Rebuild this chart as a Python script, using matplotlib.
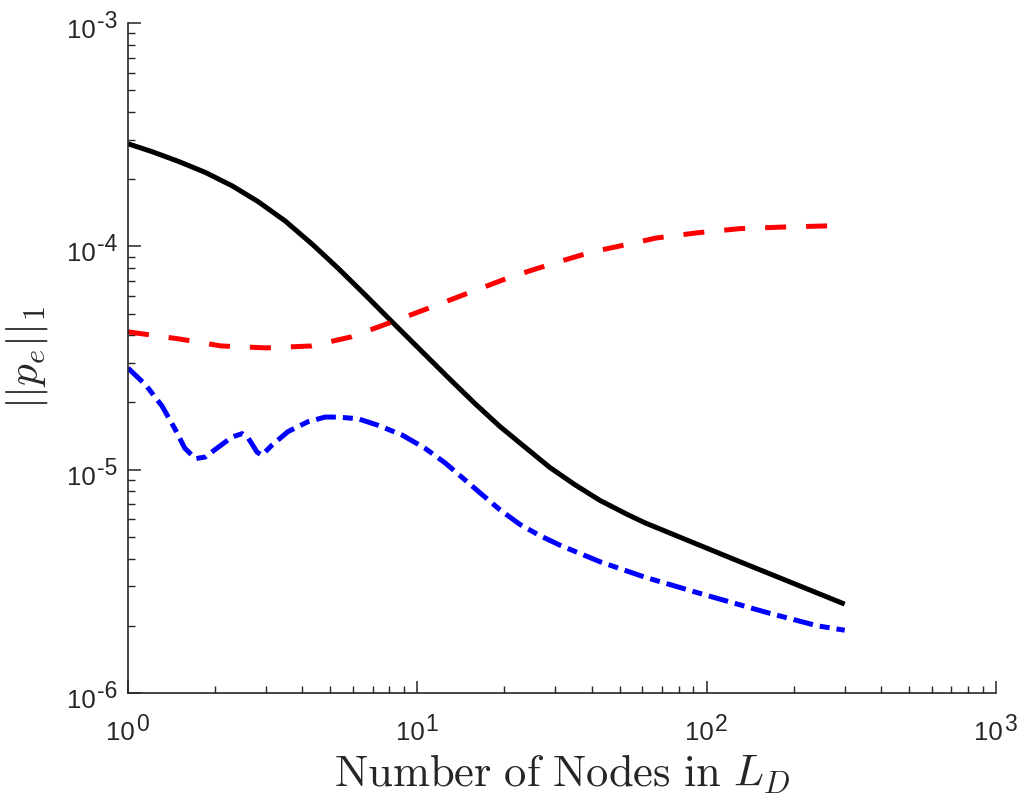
import matplotlib
matplotlib.use("Agg")
import matplotlib.pyplot as plt
from matplotlib.ticker import LogLocator, NullFormatter

# values (log-log)
x_black = [1, 1.21, 1.49, 1.85, 2.29, 2.81, 3.49, 4.33, 5.32, 6.59, 8.18, 10.4,
           13.0, 15.8, 19.3, 23.6, 28.7, 35.1, 42.8, 53.1, 61.2, 123, 300]
y_black = [2.88e-4, 2.655e-4, 2.404e-4, 2.143e-4, 1.866e-4, 1.589e-4, 1.300e-4,
           1.023e-4, 7.98e-5, 6.08e-5, 4.59e-5, 3.37e-5, 2.53e-5, 1.98e-5, 1.56e-5,
           1.259e-5, 1.023e-5, 8.55e-6, 7.28e-6, 6.31e-6, 5.78e-6, 3.99e-6, 2.50e-6]

x_red = [1, 1.5, 2.1, 3.0, 4.3, 5.9, 8.0, 11, 15, 21, 29, 40, 56, 67, 93, 130, 184, 300]
y_red = [4.14e-5, 3.85e-5, 3.58e-5, 3.51e-5, 3.58e-5, 3.93e-5, 4.54e-5, 5.30e-5,
         6.18e-5, 7.29e-5, 8.33e-5, 9.43e-5, 1.035e-4, 1.09e-4, 1.15e-4, 1.20e-4,
         1.22e-4, 1.24e-4]

x_blue = [1, 1.15, 1.31, 1.45, 1.57, 1.71, 1.85, 2.05, 2.29, 2.48, 2.60, 2.79, 2.90,
          3.15, 3.57, 4.19, 4.80, 5.32, 6.24, 7.32, 8.85, 10.6, 12.5, 16.5, 19.3,
          22.6, 26.5, 31.1, 42.8, 61.2, 95, 162, 241, 300]
y_blue = [2.85e-5, 2.40e-5, 1.93e-5, 1.53e-5, 1.25e-5, 1.12e-5, 1.14e-5, 1.26e-5,
          1.40e-5, 1.45e-5, 1.39e-5, 1.20e-5, 1.16e-5, 1.29e-5, 1.48e-5, 1.64e-5,
          1.72e-5, 1.72e-5, 1.69e-5, 1.58e-5, 1.43e-5, 1.25e-5, 1.07e-5, 7.86e-6,
          6.61e-6, 5.69e-6, 5.07e-6, 4.59e-6, 3.87e-6, 3.30e-6, 2.79e-6, 2.29e-6,
          2.00e-6, 1.91e-6]

x_major = [1, 10, 100, 1000]
x_exp = ['0', '1', '2', '3']
y_major = [1e-6, 1e-5, 1e-4, 1e-3]
y_exp = ['-6', '-5', '-4', '-3']

plt.rcParams['font.family'] = ['Liberation Sans', 'DejaVu Sans']
plt.rcParams['mathtext.fontset'] = 'cm'

gray = '#262626'

fig = plt.figure(figsize=(10.23, 8.01), dpi=100)
ax = fig.add_axes([128 / 1023, 1 - 693 / 801, 868 / 1023, 670 / 801])

ax.plot(x_black, y_black, color='black', lw=3.6, solid_capstyle='butt',
        solid_joinstyle='round')
ax.plot(x_red, y_red, color='red', lw=3.6, dashes=(4.2, 4.0), dash_capstyle='butt')
ax.plot(x_blue, y_blue, color='blue', lw=3.6, dashes=(4.0, 1.4, 2.0, 1.4),
        dash_capstyle='butt')

ax.set_xscale('log')
ax.set_yscale('log')
ax.set_xlim(1, 1000)
ax.set_ylim(1e-6, 1e-3)

ax.spines['top'].set_visible(False)
ax.spines['right'].set_visible(False)
for s in ['left', 'bottom']:
    ax.spines[s].set_color(gray)
    ax.spines[s].set_linewidth(1.2)

ax.set_xticks(x_major)
ax.set_yticks(y_major)
ax.xaxis.set_minor_locator(LogLocator(base=10, subs=range(2, 10), numticks=10))
ax.yaxis.set_minor_locator(LogLocator(base=10, subs=range(2, 10), numticks=10))
ax.xaxis.set_minor_formatter(NullFormatter())
ax.yaxis.set_minor_formatter(NullFormatter())

ax.tick_params(which='major', direction='in', length=9, width=1.1, color=gray,
               labelbottom=False, labelleft=False)
ax.tick_params(which='minor', direction='in', length=5, width=1.0, color=gray)

# MATLAB-style tick labels: base and exponent as two texts
xtr = ax.get_xaxis_transform()
ytr = ax.get_yaxis_transform()
for xv, e in zip(x_major, x_exp):
    ax.annotate('10', (xv, 0), xycoords=xtr, xytext=(5.0, -33.8),
                textcoords='offset points', ha='right', va='baseline',
                fontsize=18.5, color=gray, annotation_clip=False)
    ax.annotate(e, (xv, 0), xycoords=xtr, xytext=(5.8, -27.4),
                textcoords='offset points', ha='left', va='baseline',
                fontsize=16.5, color=gray, annotation_clip=False)
for yv, e in zip(y_major, y_exp):
    ax.annotate('10', (0, yv), xycoords=ytr, xytext=(-23.0, -10.8),
                textcoords='offset points', ha='right', va='baseline',
                fontsize=18.5, color=gray, annotation_clip=False)
    ax.annotate(e, (0, yv), xycoords=ytr, xytext=(-22.3, -3.6),
                textcoords='offset points', ha='left', va='baseline',
                fontsize=16.5, color=gray, annotation_clip=False)

ax.set_xlabel(r'$\mathrm{Number\ of\ Nodes\ in\ }L_D$', fontsize=32, color=gray)
ax.xaxis.set_label_coords(0.5, -0.088)
ax.set_ylabel(r'$||p_e||_1$', fontsize=31, color=gray)
ax.yaxis.set_label_coords(-0.09, 0.5)

fig.savefig('out.png', dpi=100)
